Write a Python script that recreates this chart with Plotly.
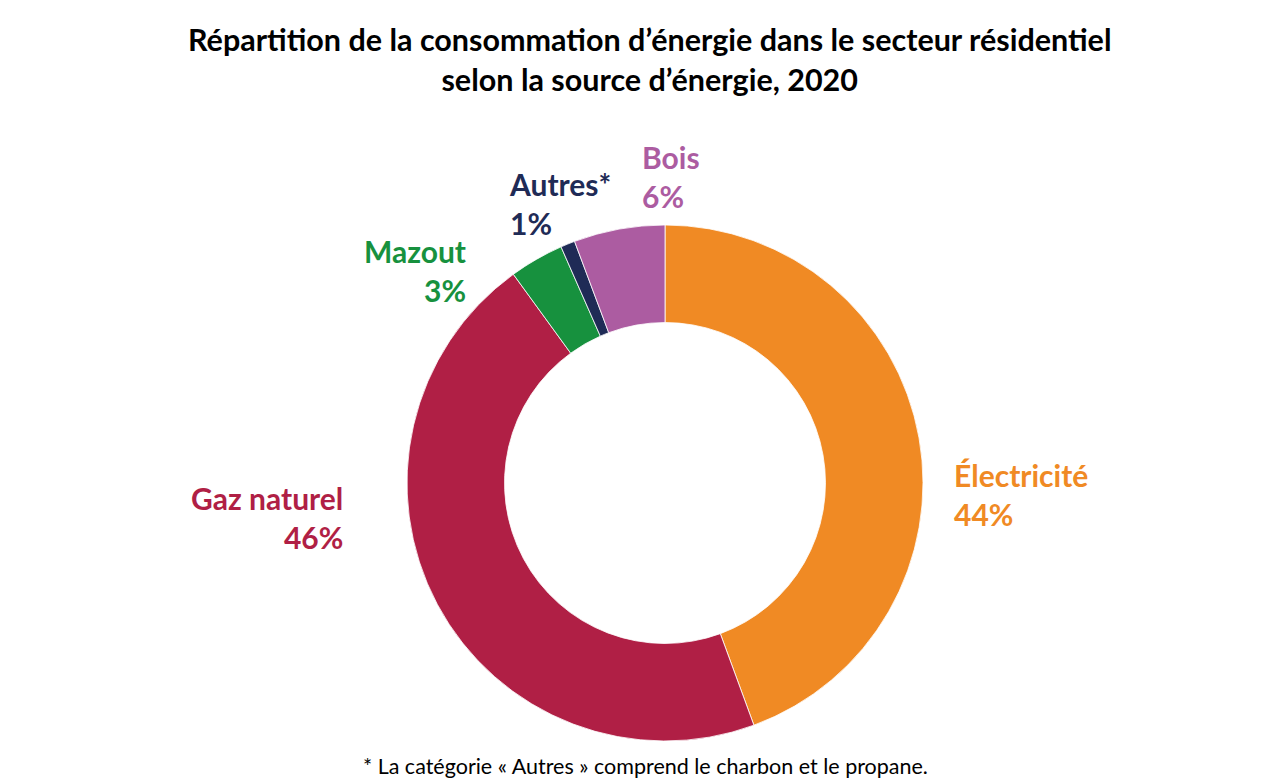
import plotly.graph_objects as go

categories = ["Électricité", "Gaz naturel", "Mazout", "Autres*", "Bois"]
values = [44.4, 45.6, 3.4, 0.9, 5.7]
colors = ["#F08A24", "#B01F45", "#17913E", "#1F2B56", "#AC5CA1"]

W, H = 1281, 782
cx, cy, R = 665, 483, 258

fig = go.Figure(go.Pie(
    labels=categories, values=values, sort=False, direction="clockwise",
    rotation=0, hole=0.622, textinfo="none", hoverinfo="label+percent",
    marker=dict(colors=colors, line=dict(color="white", width=0.8)),
    domain=dict(x=[(cx - R) / W, (cx + R) / W], y=[1 - (cy + R) / H, 1 - (cy - R) / H]),
    showlegend=False,
))

total = sum(values)
# label anchor positions (pixels) and alignment
label_pos = {
    "Électricité": (952, 495, "left"),
    "Gaz naturel": (345, 517, "right"),
    "Mazout": (468, 270, "right"),
    "Autres*": (507, 203, "left"),
    "Bois": (640, 176, "left"),
}
font_fam = "Lato, 'Open Sans', sans-serif"
annotations = []
for cat, val, col in zip(categories, values, colors):
    x, y, al = label_pos[cat]
    pct = round(val / total * 100)
    annotations.append(dict(
        x=x / W, y=1 - y / H, xref="paper", yref="paper",
        xanchor=al, yanchor="middle", align=al, showarrow=False,
        text=f"<b>{cat}</b><br><b>{pct}%</b>",
        font=dict(family=font_fam, size=30, color=col),
    ))

annotations.append(dict(
    x=645 / W, y=1 - 766 / H, xref="paper", yref="paper",
    xanchor="center", yanchor="middle", showarrow=False,
    text="* La catégorie « Autres » comprend le charbon et le propane.",
    font=dict(family=font_fam, size=21.5, color="#000000"),
))
annotations.append(dict(
    x=649 / W, y=1 - 59 / H, xref="paper", yref="paper",
    xanchor="center", yanchor="middle", showarrow=False, align="center",
    text="<b>Répartition de la consommation d’énergie dans le secteur résidentiel</b><br><b>selon la source d’énergie, 2020</b>",
    font=dict(family=font_fam, size=30.5, color="#000000"),
))

fig.update_layout(
    width=W, height=H, margin=dict(l=0, r=0, t=0, b=0),
    paper_bgcolor="white", plot_bgcolor="white",
    annotations=annotations,
)
fig.write_html("out.html")
